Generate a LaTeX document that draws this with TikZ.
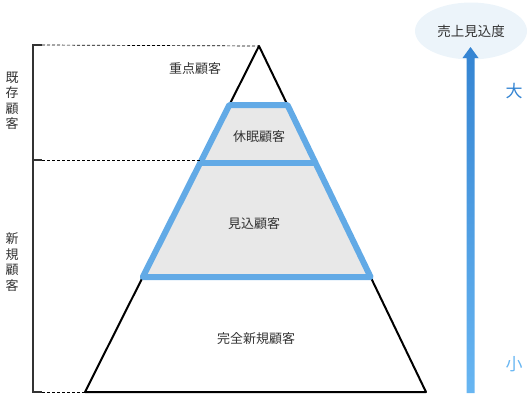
\documentclass[tikz,border=0pt]{standalone}
\usepackage{fontspec}
\setmainfont{Noto Sans CJK JP}
\usetikzlibrary{arrows.meta,positioning,calc,shapes.geometric}
\definecolor{bandblue}{RGB}{98,170,230}
\definecolor{bandgray}{RGB}{232,232,232}
\definecolor{arrowtop}{RGB}{52,132,210}
\definecolor{arrowbot}{RGB}{104,182,242}
\definecolor{bubble}{RGB}{236,244,250}
\definecolor{inkgray}{RGB}{51,51,51}

\begin{document}
\begin{tikzpicture}[x=1pt,y=-1pt,
    tier/.style={font=\fontsize{13}{15}\selectfont, text=inkgray},
    sidelabel/.style={font=\fontsize{13}{15.5}\selectfont, text=inkgray, align=center, inner sep=0pt},
    guide/.style={densely dashed, line width=0.7pt},
    band/.style={draw=bandblue, line width=6pt, line join=round},
    edge/.style={line width=2pt, line join=round},
    grade/.style={font=\fontsize{17}{17}\selectfont}]
  \useasboundingbox (0,0) rectangle (530,400);
  % pyramid corners
  \coordinate (apex) at (259,46);
  \coordinate (l1) at (229.3,105); \coordinate (r1) at (287.5,105);
  \coordinate (l2) at (200.1,163); \coordinate (r2) at (315.5,163);
  \coordinate (l3) at (142.8,277); \coordinate (r3) at (370.6,277);
  \coordinate (l4) at (85,392);    \coordinate (r4) at (426,392);
  \draw[edge] (l1) -- (apex) -- (r1);
  \draw[edge] (l3) -- (l4) -- (r4) -- (r3) -- cycle;
  \draw[band, fill=bandgray] (l1) -- (r1) -- (r3) -- (l3) -- cycle;
  \draw[band] (l2) -- (r2);
  \node[tier] (focus) at (195,69) {重点顧客};
  \node[tier] (dormant) at (259,137) {休眠顧客};
  \node[tier] (prospect) at (254,224) {見込顧客};
  \node[tier] (fresh) at (256,339) {完全新規顧客};
  % bracket on the left
  \coordinate (bt) at (33,45); \coordinate (bm) at (33,160); \coordinate (bb) at (33,392);
  \coordinate (gm) at (201.6,160);
  \draw[inkgray, line width=2.5pt] ($(bt)+(9,0)$) -- (bt) -- (bb) -- ($(bb)+(9,0)$);
  \draw[inkgray, line width=2.5pt] (bm) -- ($(bm)+(9,0)$);
  \draw[guide] ($(bt)+(9,0)$) -- (apex);
  \draw[guide] ($(bm)+(9,0)$) -- (gm);
  \draw[guide] ($(bb)+(9,0)$) -- (l4);
  \node[sidelabel] (existing) at (12,101) {既\\存\\顧\\客};
  \node[sidelabel] (newcomer) at (12,262) {新\\規\\顧\\客};
  % sales outlook scale
  \node[ellipse, fill=bubble, minimum width=112pt, minimum height=57pt, inner sep=0pt,
    font=\fontsize{13.5}{15}\selectfont, text=inkgray] (outlook) at (471,31) {売上見込度};
  \coordinate (lo) at (470.5,393);
  \coordinate (hi) at (470.5,47);
  \shade[top color=arrowtop, bottom color=arrowbot]
    ($(lo)+(-4,0)$) -- ($(hi)+(-4,11)$) -- ($(hi)+(-8,11)$) -- (hi)
    -- ($(hi)+(8,11)$) -- ($(hi)+(4,11)$) -- ($(lo)+(4,0)$) -- cycle;
  \node[grade, text=arrowtop] (high) at (514,91) {大};
  \node[grade, text=arrowbot] (low) at (514,364) {小};
\end{tikzpicture}
\end{document}
